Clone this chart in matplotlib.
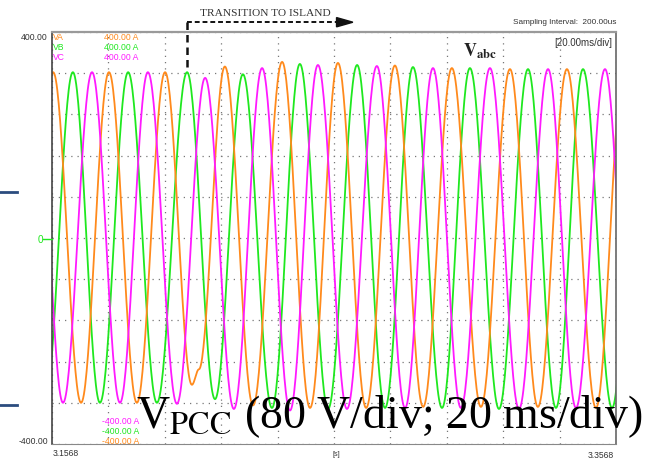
import numpy as np
import matplotlib.pyplot as plt
from matplotlib.patches import Polygon

plt.rcParams['mathtext.fontset'] = 'stix'

# Extrema of each phase trace (time in s, value)
va_t = [3.1472, 3.1572, 3.1671, 3.1770, 3.1869, 3.1969, 3.2064, 3.2089, 3.2181,
        3.2281, 3.2384, 3.2483, 3.2582, 3.2682, 3.2784, 3.2884, 3.2986, 3.3089,
        3.3192, 3.3291, 3.3394, 3.3497, 3.3596]
va_v = [-320, 322, -320, 322, -320, 322, -285, -255, 333,
        -325, 342, -330, 340, -330, 335, -328, 330, -328,
        328, -328, 328, -330, 328]

vb_t = [3.1543, 3.1642, 3.1738, 3.1838, 3.1940, 3.2047, 3.2146, 3.2245, 3.2348,
        3.2447, 3.2547, 3.2650, 3.2749, 3.2848, 3.2951, 3.3050, 3.3153, 3.3256,
        3.3355, 3.3451, 3.3554, 3.3653]
vb_v = [-320, 322, -320, 322, -320, 322, -313, 318, -330,
        338, -332, 336, -330, 332, -330, 330, -332, 328,
        -330, 328, -330, 328]

vc_t = [3.1511, 3.1607, 3.1710, 3.1809, 3.1908, 3.2011, 3.2111, 3.2213, 3.2313,
        3.2412, 3.2511, 3.2614, 3.2720, 3.2820, 3.2919, 3.3018, 3.3121, 3.3224,
        3.3327, 3.3426, 3.3529, 3.3628]
vc_v = [322, -320, 322, -320, 322, -322, 311, -332, 330,
        -335, 336, -332, 334, -330, 330, -330, 330, -332,
        328, -330, 328, -330]

t_start, t_end = 3.1568, 3.3568
v_min, v_max = -400, 400
transition_t = 3.2047
arrow_end_t = 3.2635

c_a, c_b, c_c = '#FF8A1C', '#1FE81F', '#FF1AFF'


def trace(tk, vk, n=40):
    # draw a smooth half-cosine between consecutive extrema
    tt, vv = [], []
    for i in range(len(tk) - 1):
        s = np.linspace(0, 1, n, endpoint=False)
        tt.append(tk[i] + (tk[i + 1] - tk[i]) * s)
        vv.append(vk[i] + (vk[i + 1] - vk[i]) * (1 - np.cos(np.pi * s)) / 2)
    tt.append([tk[-1]])
    vv.append([vk[-1]])
    return np.concatenate(tt), np.concatenate(vv)


W, H = 648, 459
fig = plt.figure(figsize=(W / 100, H / 100), dpi=100)


def fx(x):
    return x / W


def fy(y):
    return 1 - y / H


ax = fig.add_axes([fx(52), fy(444), fx(616) - fx(52), fy(32) - fy(444)])

for tk, vk, c in [(vb_t, vb_v, c_b), (va_t, va_v, c_a), (vc_t, vc_v, c_c)]:
    t, v = trace(tk, vk)
    ax.plot(t, v, color=c, lw=1.3)

ax.set_xlim(t_start, t_end)
ax.set_ylim(v_min, v_max)
ax.set_xticks(np.linspace(t_start, t_end, 11))
ax.set_yticks(np.arange(v_min, v_max + 1, 80))
ax.tick_params(length=0, labelbottom=False, labelleft=False)
ax.grid(True, color='#777777', lw=0.9, linestyle=(0, (1, 4)))
ax.spines['top'].set_color('#9a9a9a')
ax.spines['top'].set_linewidth(1.6)
ax.spines['left'].set_color('#444444')
ax.spines['left'].set_linewidth(1.2)
ax.spines['right'].set_color('#666666')
ax.spines['right'].set_linewidth(1.2)
ax.spines['bottom'].set_color('#888888')

sans = 'Liberation Sans'
small = 6.2

# axis labels
fig.text(fx(48), fy(38), '400.00', ha='right', va='center', fontsize=small, family=sans, color='#333333')
fig.text(fx(48), fy(441), '-400.00', ha='right', va='center', fontsize=small, family=sans, color='#333333')
fig.text(fx(40), fy(240), '0', ha='center', va='center', fontsize=small + 1, family=sans, color=c_b)
fig.add_artist(plt.Line2D([fx(43), fx(52)], [fy(239), fy(239)], color=c_b, lw=1))
fig.text(fx(53), fy(454), '3.1568', ha='left', va='center', fontsize=small, family=sans, color='#333333')
fig.text(fx(614), fy(455), '3.3568', ha='right', va='center', fontsize=small, family=sans, color='#333333')
fig.text(fx(336), fy(454), '[s]', ha='center', va='center', fontsize=small - 1, family=sans, color='#333333')

# channel labels
for y, name, c in [(38, 'VA', c_a), (47.5, 'VB', c_b), (57, 'VC', c_c)]:
    fig.text(fx(53), fy(y), name, ha='left', va='center', fontsize=small, family=sans, color=c)
    fig.text(fx(104), fy(y), '400.00 A', ha='left', va='center', fontsize=small, family=sans, color=c)
for y, c in [(422, c_c), (431.5, c_b), (441, c_a)]:
    fig.text(fx(102), fy(y), '-400.00 A', ha='left', va='center', fontsize=small, family=sans, color=c)

fig.text(fx(616), fy(22), 'Sampling Interval:  200.00us', ha='right', va='center',
         fontsize=5.9, family=sans, color='#333333')
fig.text(fx(612), fy(43), '[20.00ms/div]', ha='right', va='center', fontsize=7, family=sans, color='#333333')
fig.text(fx(463), fy(56), r'$\mathbf{V_{abc}}$', ha='left', va='baseline', fontsize=13, color='#222222')

# transition marker
y_arrow = 419
ax.plot([transition_t, transition_t], [y_arrow, 330], color='#111111', lw=1.8,
        linestyle=(0, (3, 2)), clip_on=False)
ax.plot([transition_t, arrow_end_t - 0.005], [y_arrow, y_arrow], color='#111111', lw=1.4,
        linestyle=(0, (2.5, 1.5)), clip_on=False)
head = Polygon([[arrow_end_t - 0.0058, y_arrow + 9], [arrow_end_t, y_arrow], [arrow_end_t - 0.0058, y_arrow - 9]],
               closed=True, color='#111111', clip_on=False)
ax.add_patch(head)
fig.text(fx(265), fy(14), 'TRANSITION TO ISLAND', ha='center', va='center', fontsize=8.2,
         family='Liberation Serif', color='#333333')

# slide decorations
fig.add_artist(plt.Line2D([0, fx(17)], [fy(192), fy(192)], color='#2B4C7E', lw=2))
fig.add_artist(plt.Line2D([0, fx(17)], [fy(405), fy(405)], color='#2B4C7E', lw=2))

# caption
fig.text(fx(136), fy(428), r'V$_{\mathrm{PCC}}$ (80 V/div; 20 ms/div)', ha='left', va='baseline',
         fontsize=33, family='Liberation Serif', color='black')

fig.savefig('out.png', dpi=100)
